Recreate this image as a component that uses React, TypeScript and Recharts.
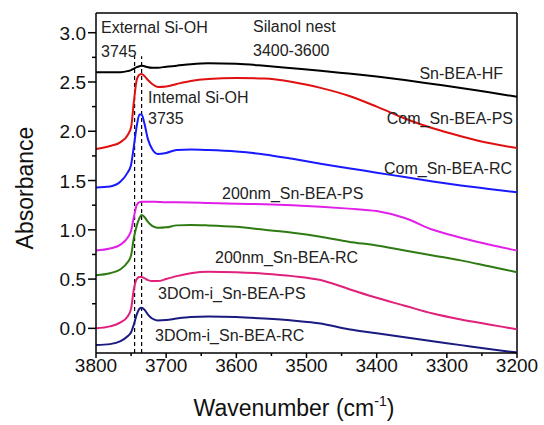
import { LineChart, Line, XAxis, YAxis, ReferenceLine } from "recharts";

const FONT = "'Liberation Sans', Arial, sans-serif";

// wavenumber grid (cm-1), high to low so the reversed axis runs left to right
const wavenumbers = [
  3800, 3780, 3765, 3755, 3750, 3746, 3742, 3738, 3735, 3731, 3726, 3720, 3712, 3700,
  3685, 3665, 3640, 3600, 3560, 3520, 3480, 3440, 3400, 3360, 3320, 3280, 3240, 3200,
];

const snBeaHf = [
  2.6, 2.6, 2.6, 2.61, 2.62, 2.635, 2.65, 2.66, 2.665, 2.66, 2.65, 2.645, 2.645, 2.655,
  2.665, 2.68, 2.69, 2.685, 2.665, 2.64, 2.615, 2.585, 2.555, 2.52, 2.48, 2.44, 2.395, 2.35,
];
const comPs = [
  1.82, 1.85, 1.89, 1.96, 2.04, 2.3, 2.52, 2.575, 2.58, 2.56, 2.52, 2.48, 2.45, 2.455,
  2.48, 2.51, 2.53, 2.54, 2.535, 2.5, 2.44, 2.36, 2.25, 2.13, 2.03, 1.95, 1.88, 1.83,
];
const comRc = [
  1.43, 1.44, 1.49, 1.58, 1.66, 1.85, 2.05, 2.17, 2.17, 2.08, 1.92, 1.82, 1.77, 1.78,
  1.81, 1.815, 1.81, 1.795, 1.765, 1.72, 1.67, 1.625, 1.58, 1.535, 1.49, 1.45, 1.415, 1.38,
];
const nm200Ps = [
  0.79, 0.81, 0.85, 0.92, 0.99, 1.13, 1.25, 1.28, 1.285, 1.285, 1.285, 1.285, 1.283, 1.28,
  1.28, 1.278, 1.272, 1.265, 1.26, 1.25, 1.235, 1.215, 1.19, 1.12, 1.0, 0.92, 0.85, 0.79,
];
const nm200Rc = [
  0.54, 0.56, 0.6, 0.67, 0.74, 0.92, 1.04, 1.12, 1.15, 1.13, 1.08, 1.04, 1.02, 1.025,
  1.045, 1.05, 1.045, 1.03, 1.0, 0.97, 0.93, 0.88, 0.84, 0.79, 0.74, 0.69, 0.63, 0.57,
];
const domPs = [
  0.0, 0.02, 0.06, 0.12, 0.2, 0.4, 0.5, 0.52, 0.52, 0.51, 0.49, 0.48, 0.48, 0.5,
  0.53, 0.56, 0.575, 0.57, 0.555, 0.53, 0.49, 0.4, 0.31, 0.23, 0.15, 0.09, 0.04, -0.01,
];
const domRc = [
  -0.17, -0.16, -0.13, -0.08, -0.04, 0.04, 0.14, 0.2, 0.21, 0.19, 0.14, 0.1, 0.08, 0.085,
  0.1, 0.115, 0.12, 0.115, 0.1, 0.08, 0.05, -0.01, -0.05, -0.09, -0.13, -0.17, -0.21, -0.245,
];

const xTicks = [3800, 3750, 3700, 3650, 3600, 3550, 3500, 3450, 3400, 3350, 3300, 3250, 3200];
const yTicks = [0, 0.25, 0.5, 0.75, 1, 1.25, 1.5, 1.75, 2, 2.25, 2.5, 2.75, 3];

const series = [
  { key: "hf", values: snBeaHf, color: "#000000" },
  { key: "comPs", values: comPs, color: "#e01010" },
  { key: "comRc", values: comRc, color: "#1a1aff" },
  { key: "nmPs", values: nm200Ps, color: "#e020e8" },
  { key: "nmRc", values: nm200Rc, color: "#2f7a12" },
  { key: "domPs", values: domPs, color: "#e0207a" },
  { key: "domRc", values: domRc, color: "#1a1a80" },
];

const rows = wavenumbers.map((wn, i) => {
  const row: Record<string, number> = { wn };
  series.forEach((s) => (row[s.key] = s.values[i]));
  return row;
});

// text placed over the plot: [label, x, y, anchor]
const notes: [string, number, number, "start" | "end"][] = [
  ["External Si-OH", 101, 33, "start"],
  ["3745", 101, 57, "start"],
  ["Silanol nest", 253, 32, "start"],
  ["3400-3600", 253, 56, "start"],
  ["Intemal Si-OH", 148, 103, "start"],
  ["3735", 148, 124, "start"],
  ["Sn-BEA-HF", 503, 79, "end"],
  ["Com_Sn-BEA-PS", 513, 124, "end"],
  ["Com_Sn-BEA-RC", 512, 174, "end"],
  ["200nm_Sn-BEA-PS", 222, 199, "start"],
  ["200nm_Sn-BEA-RC", 215, 263, "start"],
  ["3DOm-i_Sn-BEA-PS", 158, 299, "start"],
  ["3DOm-i_Sn-BEA-RC", 155, 341, "start"],
];

function XTick({ x, y, payload }: any) {
  const axisY = y - 8;
  const major = payload.value % 100 === 0;
  return (
    <g>
      <line x1={x} x2={x} y1={axisY} y2={axisY + (major ? 5 : 3)} stroke="#000" strokeWidth={1.5} />
      {major && (
        <text x={x} y={axisY + 19} textAnchor="middle" fontSize={19} fontFamily={FONT} fill="#111">
          {payload.value}
        </text>
      )}
    </g>
  );
}

function YTick({ x, y, payload }: any) {
  const axisX = x + 8;
  const major = Math.abs((payload.value * 2) % 1) < 1e-6;
  return (
    <g>
      <line x1={axisX - (major ? 8 : 4)} x2={axisX} y1={y} y2={y} stroke="#000" strokeWidth={1.5} />
      {major && (
        <text x={axisX - 10} y={y + 7} textAnchor="end" fontSize={19} fontFamily={FONT} fill="#111">
          {payload.value.toFixed(1)}
        </text>
      )}
    </g>
  );
}

export default function App() {
  return (
    <div style={{ position: "absolute", left: 0, top: 0, width: 544, height: 425, background: "#fff" }}>
      <LineChart width={544} height={425} data={rows} margin={{ top: 13, right: 27, left: 36, bottom: 42 }}>
        <XAxis
          dataKey="wn"
          type="number"
          domain={[3200, 3800]}
          reversed
          ticks={xTicks}
          interval={0}
          tick={XTick}
          tickLine={false}
          tickSize={6}
          tickMargin={2}
          height={30}
          axisLine={{ stroke: "#000", strokeWidth: 1.5 }}
        />
        <YAxis
          type="number"
          domain={[-0.25, 3.2]}
          ticks={yTicks}
          interval={0}
          tick={YTick}
          tickLine={false}
          tickSize={6}
          tickMargin={2}
          width={60}
          axisLine={{ stroke: "#000", strokeWidth: 1.5 }}
        />
        <ReferenceLine x={3200} stroke="#000" strokeWidth={1.5} />
        <ReferenceLine y={3.2} stroke="#000" strokeWidth={1.5} />
        <ReferenceLine
          segment={[{ x: 3745, y: -0.25 }, { x: 3745, y: 2.76 }]}
          stroke="#000"
          strokeWidth={1.2}
          strokeDasharray="4 3"
        />
        <ReferenceLine
          segment={[{ x: 3735, y: -0.25 }, { x: 3735, y: 2.76 }]}
          stroke="#000"
          strokeWidth={1.2}
          strokeDasharray="4 3"
        />
        {series.map((s) => (
          <Line
            key={s.key}
            type="monotone"
            dataKey={s.key}
            stroke={s.color}
            strokeWidth={2}
            dot={false}
            isAnimationActive={false}
          />
        ))}
      </LineChart>
      <svg width={544} height={425} style={{ position: "absolute", left: 0, top: 0, pointerEvents: "none" }}>
        {notes.map(([label, x, y, anchor]) => (
          <text key={label} x={x} y={y} textAnchor={anchor} fontSize={16} fontFamily={FONT} fill="#222">
            {label}
          </text>
        ))}
        <text
          transform="translate(33,188) rotate(-90)"
          textAnchor="middle"
          fontSize={23}
          fontFamily={FONT}
          fill="#111"
        >
          Absorbance
        </text>
        <text x={294} y={416} textAnchor="middle" fontSize={23} fontFamily={FONT} fill="#111">
          Wavenumber (cm
          <tspan fontSize={14} dy={-10}>-1</tspan>
          <tspan dy={10}>)</tspan>
        </text>
      </svg>
    </div>
  );
}
